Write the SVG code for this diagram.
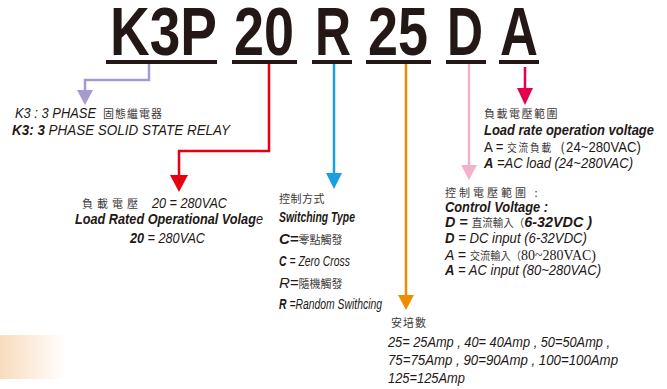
<svg xmlns="http://www.w3.org/2000/svg" width="667" height="389" viewBox="0 0 667 389">
<defs>
<linearGradient id="fade" x1="0" y1="0" x2="1" y2="0">
<stop offset="0" stop-color="#f9dcbd"/>
<stop offset="1" stop-color="#ffffff"/>
</linearGradient>
</defs>
<style>
.big{font-family:"Liberation Sans",Arial,sans-serif;font-weight:bold;font-size:68px;fill:#231815}
.ul{fill:#231815}
.t{font-family:"Liberation Sans",Arial,sans-serif;font-size:15px;fill:#231815}
.it{font-style:italic}
.b{font-weight:bold}
.cjk{font-family:"Noto Sans CJK TC","Noto Sans CJK SC",sans-serif;font-size:11px;fill:#3e3a39;font-style:normal;font-weight:normal}
.serif{font-family:"Liberation Serif",serif;font-style:normal}
.ln{fill:none;stroke-width:2.5}
</style>
<rect x="0" y="0" width="667" height="389" fill="#ffffff"/>
<rect x="0" y="335" width="66" height="44" fill="url(#fade)"/>

<g id="code">
<text class="big" x="110" y="55" textLength="107" lengthAdjust="spacingAndGlyphs">K3P</text>
<text class="big" x="234" y="55" textLength="60" lengthAdjust="spacingAndGlyphs">20</text>
<text class="big" x="315" y="55" textLength="36" lengthAdjust="spacingAndGlyphs">R</text>
<text class="big" x="368" y="55" textLength="60" lengthAdjust="spacingAndGlyphs">25</text>
<text class="big" x="447" y="55" textLength="36" lengthAdjust="spacingAndGlyphs">D</text>
<text class="big" x="500" y="55" textLength="38" lengthAdjust="spacingAndGlyphs">A</text>
<rect class="ul" x="106" y="60" width="111" height="4"/>
<rect class="ul" x="232" y="60" width="65" height="4"/>
<rect class="ul" x="312" y="60" width="40" height="4"/>
<rect class="ul" x="366" y="60" width="65" height="4"/>
<rect class="ul" x="446" y="60" width="40" height="4"/>
<rect class="ul" x="499" y="60" width="40" height="4"/>
</g>

<g id="connectors">
<polyline class="ln" stroke="#a79bcd" points="149,64 149,80 85,80 85,91"/>
<polygon fill="#a79bcd" points="77,90 93,90 85,105"/>
<polyline class="ln" stroke="#e60012" points="269,64 269,151 179,151 179,176"/>
<polygon fill="#e60012" points="170,175 188,175 179,192"/>
<line class="ln" stroke="#1aa0e0" x1="334" y1="64" x2="334" y2="174"/>
<polygon fill="#1aa0e0" points="326,173 342,173 334,189"/>
<line class="ln" stroke="#f08c00" x1="406" y1="64" x2="406" y2="296"/>
<polygon fill="#f08c00" points="398,295 414,295 406,310"/>
<line class="ln" stroke="#f5b1cb" x1="469" y1="64" x2="469" y2="166"/>
<polygon fill="#f5b1cb" points="461,165 477,165 469,180"/>
<line class="ln" stroke="#e4004f" x1="525" y1="67" x2="525" y2="89"/>
<polygon fill="#e4004f" points="517,88 533,88 525,105"/>
</g>

<g id="node-phase">
<text class="t it" x="15" y="118" font-size="15" textLength="81" lengthAdjust="spacingAndGlyphs">K3 : 3 PHASE</text>
<text class="cjk" x="103" y="118" letter-spacing="1">固態繼電器</text>
<text class="t it" x="12" y="135" font-size="16" textLength="218" lengthAdjust="spacingAndGlyphs"><tspan class="b">K3: 3</tspan>  PHASE SOLID STATE RELAY</text>
</g>

<g id="node-voltage">
<text class="cjk" x="82" y="208" font-size="13" letter-spacing="4">負載電壓</text>
<text class="t it" x="152" y="208" font-size="16" textLength="75" lengthAdjust="spacingAndGlyphs">20 = 280VAC</text>
<text class="t it" x="75" y="224" font-size="16" textLength="188" lengthAdjust="spacingAndGlyphs"><tspan class="b">Load Rated Operational Volag</tspan>e</text>
<text class="t it" x="130" y="243" font-size="16" textLength="75" lengthAdjust="spacingAndGlyphs"><tspan class="b">20</tspan> = 280VAC</text>
</g>

<g id="node-switching">
<text class="cjk" x="279" y="203" letter-spacing="0.5">控制方式</text>
<text class="t it b" x="279" y="222" font-size="16.5" textLength="76" lengthAdjust="spacingAndGlyphs">Switching Type</text>
<text class="t it" x="279" y="244" font-size="16.5"><tspan class="b">C=</tspan><tspan class="cjk" font-size="12">零點觸發</tspan></text>
<text class="t it" x="279" y="266" font-size="16.5" textLength="71" lengthAdjust="spacingAndGlyphs"><tspan class="b">C</tspan> = Zero Cross</text>
<text class="t it" x="279" y="288" font-size="16.5">R=<tspan class="cjk" font-size="12">隨機觸發</tspan></text>
<text class="t it" x="279" y="309" font-size="16.5" textLength="103" lengthAdjust="spacingAndGlyphs"><tspan class="b">R</tspan> =Random Swithcing</text>
</g>

<g id="node-current">
<text class="cjk" x="391" y="327" letter-spacing="1">安培數</text>
<text class="t it" x="388" y="347" font-size="14.5" textLength="222" lengthAdjust="spacingAndGlyphs">25= 25Amp , 40= 40Amp , 50=50Amp ,</text>
<text class="t it" x="388" y="365" font-size="14.5" textLength="230" lengthAdjust="spacingAndGlyphs">75=75Amp  , 90=90Amp  , 100=100Amp</text>
<text class="t it" x="388" y="383" font-size="14.5" textLength="77" lengthAdjust="spacingAndGlyphs">125=125Amp</text>
</g>

<g id="node-control">
<text class="cjk" x="445" y="197" letter-spacing="3">控制電壓範圍 :</text>
<text class="t it b" x="445" y="212" textLength="103" lengthAdjust="spacingAndGlyphs">Control Voltage :</text>
<text class="t it" x="445" y="227" textLength="147" lengthAdjust="spacingAndGlyphs"><tspan class="b">D = </tspan><tspan class="cjk" font-size="13">直流輸入（</tspan><tspan class="b">6-32VDC )</tspan></text>
<text class="t it" x="445" y="243" textLength="142" lengthAdjust="spacingAndGlyphs"><tspan class="b">D</tspan> = DC input (6-32VDC)</text>
<text class="t it" x="445" y="260" fill="#3e3a39" textLength="151" lengthAdjust="spacingAndGlyphs">A  = <tspan class="cjk" font-size="13">交流輸入（</tspan><tspan class="serif">80~280VAC)</tspan></text>
<text class="t it" x="445" y="275" textLength="156" lengthAdjust="spacingAndGlyphs"><tspan class="b">A</tspan> = AC input (80~280VAC)</text>
</g>

<g id="node-load">
<text class="cjk" x="484" y="118" letter-spacing="1.5">負載電壓範圍</text>
<text class="t it b" x="484" y="135" textLength="170" lengthAdjust="spacingAndGlyphs">Load rate operation voltage</text>
<text class="t" x="484" y="152" textLength="157" lengthAdjust="spacingAndGlyphs">A = <tspan class="cjk" font-size="12" letter-spacing="2">交流負載</tspan>（24~280VAC)</text>
<text class="t it" x="484" y="168" textLength="149" lengthAdjust="spacingAndGlyphs"><tspan class="b">A</tspan> =AC load (24~280VAC)</text>
</g>
</svg>
